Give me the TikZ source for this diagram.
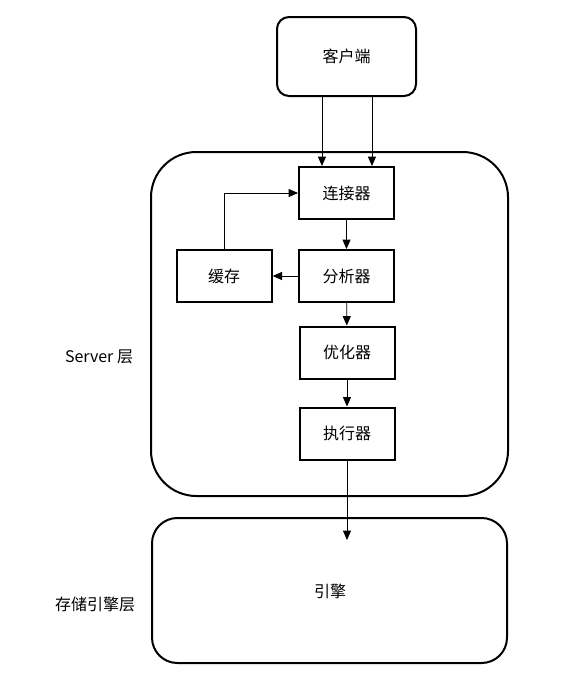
\documentclass[tikz,border=0pt]{standalone}
\usepackage{fontspec}
\setmainfont{Noto Sans CJK SC}
\usetikzlibrary{positioning,arrows.meta}

\begin{document}
\begin{tikzpicture}[x=0.75pt, y=-0.75pt, every node/.style={font=\fontsize{12}{14}\selectfont},
    box/.style={draw, line width=1.5pt, minimum width=71.25pt, minimum height=39pt, inner sep=0pt},
    layer/.style={draw, line width=1.5pt, inner sep=0pt},
    link/.style={-{Triangle[length=7pt,width=6pt]}, line width=0.6pt}]
    \useasboundingbox (0,0) rectangle (584,689);

    % Client
    \node[layer, rounded corners=9pt, minimum width=104.25pt, minimum height=59.25pt] (client) at (346.5,56.5) {客户端};

    % Server layer
    \node[layer, rounded corners=34pt, minimum width=267.75pt, minimum height=258pt] (server) at (329.5,324) {};
    \node (server-label) at (99,357) {Server 层};

    \node[box] (connector) at (346.5,193) {连接器};
    \node[box] (analyzer) at (346.5,276) {分析器};
    \node[box, left=19pt of analyzer] (cache) {缓存};
    \node[box] (optimizer) at (347,352.5) {优化器};
    \node[box] (executor) at (347,433.5) {执行器};

    % Storage engine layer
    \node[layer, rounded corners=19pt, minimum width=266.25pt, minimum height=108.75pt] (engine) at (329.5,590.5) {};
    \node (engine-text) at (330,591) {引擎};
    \node (engine-label) at (95,604) {存储引擎层};
    \coordinate (engine-in) at (347,540);

    % Arrows
    \draw[link] ([xshift=-18.4pt]client.south) -- ([xshift=-18.4pt]connector.north);
    \draw[link] ([xshift=19.1pt]client.south) -- ([xshift=19.1pt]connector.north);
    \draw[link] (connector) -- (analyzer);
    \draw[link] (analyzer) -- (cache);
    \draw[link] (cache.north) |- (connector.west);
    \draw[link] (analyzer) -- (optimizer);
    \draw[link] (optimizer) -- (executor);
    \draw[link] (executor) -- (executor |- engine-in);
\end{tikzpicture}
\end{document}
